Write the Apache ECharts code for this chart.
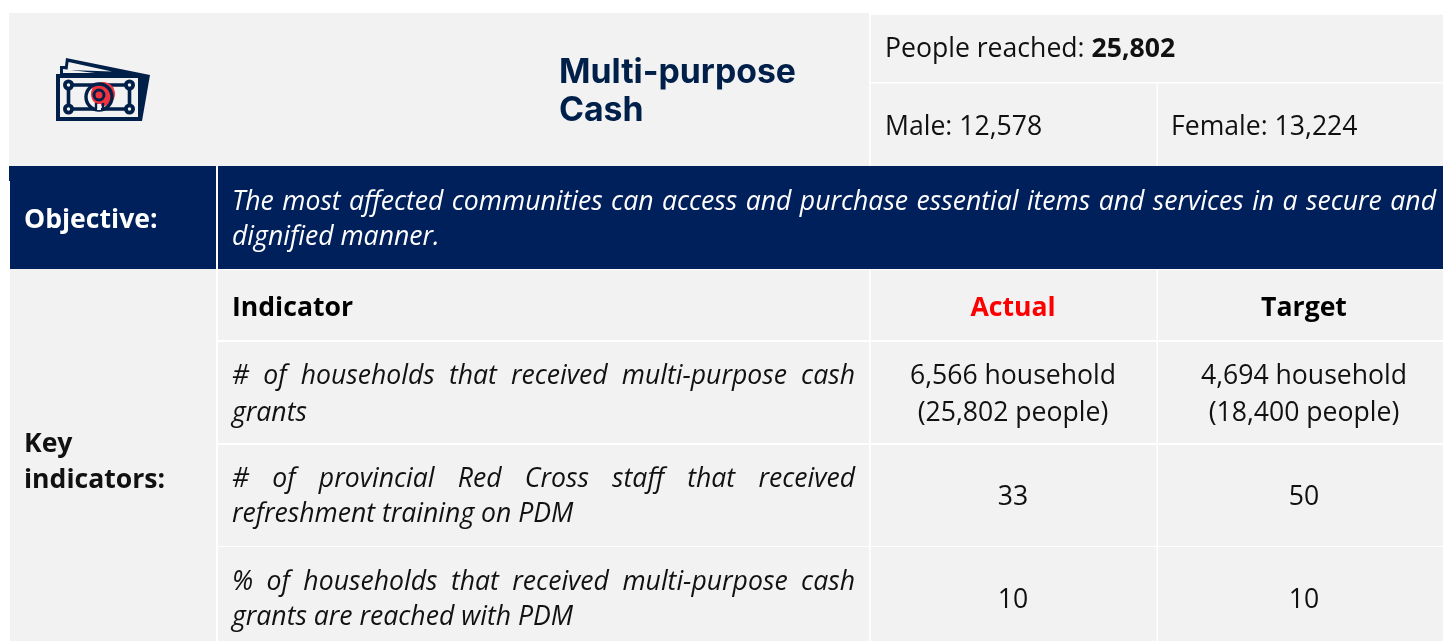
<!DOCTYPE html>
<html lang="en">

<head>
    <meta charset="UTF-8">
    <title>Multi-purpose Cash</title>
    <script src="https://cdn.jsdelivr.net/npm/echarts@6/dist/echarts.min.js"></script>
    <style>
        html,
        body {
            margin: 0;
            width: 100%;
            height: 100%;
            background: #fff;
        }
    </style>
</head>

<body>
    <div id="chart" style="width: 1443px;height: 641px;"></div>
    <script>
        // table content
        var titleLines = ['Multi-purpose', 'Cash'];
        var peopleReached = '25,802';
        var male = '12,578';
        var female = '13,224';
        var objectiveLines = [
            'The most affected communities can access and purchase essential items and services in a secure and',
            'dignified manner.'
        ];
        var headers = ['Indicator', 'Actual', 'Target'];
        var indicatorLines = [
            ['# of households that received multi-purpose cash', 'grants'],
            ['# of provincial Red Cross staff that received', 'refreshment training on PDM'],
            ['% of households that received multi-purpose cash', 'grants are reached with PDM']
        ];
        var actualValues = [['6,566 household', '(25,802 people)'], ['33'], ['10']];
        var targetValues = [['4,694 household', '(18,400 people)'], ['50'], ['10']];

        var NAVY = '#00205b';
        var GREY = '#f2f2f2';
        var ICON = '#00204a';
        var RED = '#f0333f';
        var FONT = '"Open Sans"';
        var SIZE = 26.6;

        var elements = [];
        var measure = document.createElement('canvas').getContext('2d');

        function rect(x, y, w, h, fill) {
            elements.push({ type: 'rect', shape: { x: x, y: y, width: w, height: h }, style: { fill: fill } });
        }

        function text(str, x, y, opt) {
            opt = opt || {};
            var size = opt.size || SIZE;
            elements.push({
                type: 'text',
                style: {
                    text: str, x: x, y: y + Math.round(size * 0.29) - 2,
                    fill: opt.fill || '#111',
                    font: (opt.italic ? 'italic ' : '') + (opt.bold ? 'bold ' : '') + size + 'px ' + (opt.family || FONT),
                    textAlign: opt.align || 'left',
                    textVerticalAlign: 'bottom'
                }
            });
        }

        // canvas has no justify, so spread the words over the line width
        function justified(str, x, y, right, fill) {
            measure.font = 'italic ' + SIZE + 'px ' + FONT;
            var words = str.split(' ');
            var total = 0;
            words.forEach(function (w) { total += measure.measureText(w).width; });
            var gap = (right - x - total) / (words.length - 1);
            var cur = x;
            words.forEach(function (w) {
                text(w, cur, y, { italic: true, fill: fill });
                cur += measure.measureText(w).width + gap;
            });
        }

        // backgrounds
        rect(9, 13, 1434, 153, GREY);
        rect(10, 166, 1433, 475, GREY);
        rect(10, 166, 1433, 103, NAVY);
        rect(9, 166, 1, 15, NAVY);

        // white rules
        rect(869, 13, 574, 1.7, '#fff');
        rect(869, 13, 1.7, 153, '#fff');
        rect(869, 82, 574, 1.4, '#fff');
        rect(1156.5, 83, 1.5, 83, '#fff');
        rect(216, 166, 2, 475, '#fff');
        rect(218, 269, 1225, 1, '#fff');
        rect(869, 270, 1.7, 371, '#fff');
        rect(1156.5, 270, 1.5, 371, '#fff');
        rect(218, 340, 1225, 2, '#fff');
        rect(218, 443, 1225, 2, '#fff');
        rect(218, 546, 1225, 1, '#fff');

        // money icon
        elements.push(
            { type: 'polygon', shape: { points: [[66, 58], [150, 75], [142, 121], [60, 121], [60, 66], [65, 66]] }, style: { fill: ICON } },
            { type: 'polygon', shape: { points: [[68.5, 62], [112, 71.5], [67.5, 70]] }, style: { fill: GREY } },
            { type: 'polygon', shape: { points: [[63, 69], [95, 73], [63, 73]] }, style: { fill: GREY } },
            { type: 'rect', shape: { x: 56, y: 74, width: 86, height: 47 }, style: { fill: ICON } },
            { type: 'rect', shape: { x: 60, y: 78, width: 78, height: 39 }, style: { fill: GREY } },
            { type: 'rect', shape: { x: 68.5, y: 85, width: 61, height: 24 }, style: { fill: 'none', stroke: ICON, lineWidth: 3.6 } },
            { type: 'circle', shape: { cx: 99, cy: 97, r: 14 }, style: { fill: GREY } },
            { type: 'circle', shape: { cx: 103, cy: 94, r: 12 }, style: { fill: RED } },
            { type: 'circle', shape: { cx: 99, cy: 97, r: 13 }, style: { fill: 'none', stroke: ICON, lineWidth: 3.4 } },
            { type: 'circle', shape: { cx: 99, cy: 95, r: 5 }, style: { fill: RED, stroke: ICON, lineWidth: 3 } },
            { type: 'rect', shape: { x: 97, y: 104, width: 4, height: 6 }, style: { fill: GREY } },
            { type: 'line', shape: { x1: 96, y1: 103, x2: 96, y2: 109 }, style: { stroke: ICON, lineWidth: 2.4 } },
            { type: 'line', shape: { x1: 103, y1: 103, x2: 103, y2: 109 }, style: { stroke: ICON, lineWidth: 2.4 } }
        );
        [[68.5, 85], [129.5, 85], [68.5, 109], [129.5, 109]].forEach(function (c) {
            elements.push({ type: 'circle', shape: { cx: c[0], cy: c[1], r: 3.6 }, style: { fill: GREY, stroke: ICON, lineWidth: 3.8 } });
        });

        // header block
        text(titleLines[0], 559, 82, { bold: true, size: 33.8, fill: '#00204a', family: 'Inter' });
        text(titleLines[1], 559, 120, { bold: true, size: 33.8, fill: '#00204a', family: 'Inter' });
        text('People reached: ', 885, 57);
        measure.font = SIZE + 'px ' + FONT;
        text(peopleReached, 885 + measure.measureText('People reached: ').width, 57, { bold: true });
        text('Male: ' + male, 885, 135);
        text('Female: ' + female, 1171, 135);

        // objective row
        text('Objective:', 24, 228, { bold: true, fill: '#fff' });
        justified(objectiveLines[0], 232, 210, 1436, '#fff');
        text(objectiveLines[1], 232, 245, { italic: true, fill: '#fff' });

        // indicators
        text('Key', 24, 452, { bold: true });
        text('indicators:', 24, 488, { bold: true });
        text(headers[0], 232, 316, { bold: true, fill: '#000' });
        text(headers[1], 1013, 316, { bold: true, fill: '#ff0000', align: 'center' });
        text(headers[2], 1304, 316, { bold: true, fill: '#000', align: 'center' });

        var rowBase = [[384, 421], [487, 522], [590, 625]];
        var singleBase = [0, 505, 608];
        indicatorLines.forEach(function (lines, i) {
            justified(lines[0], 232, rowBase[i][0], 855, '#111');
            text(lines[1], 232, rowBase[i][1], { italic: true });
            if (actualValues[i].length === 2) {
                text(actualValues[i][0], 1013, rowBase[i][0], { align: 'center' });
                text(actualValues[i][1], 1013, rowBase[i][1], { align: 'center' });
                text(targetValues[i][0], 1304, rowBase[i][0], { align: 'center' });
                text(targetValues[i][1], 1304, rowBase[i][1], { align: 'center' });
            } else {
                text(actualValues[i][0], 1013, singleBase[i], { align: 'center' });
                text(targetValues[i][0], 1304, singleBase[i], { align: 'center' });
            }
        });

        var myChart = echarts.init(document.getElementById('chart'), null, { renderer: 'canvas' });
        myChart.setOption({
            animation: false,
            graphic: { elements: elements }
        });
    </script>
</body>

</html>
